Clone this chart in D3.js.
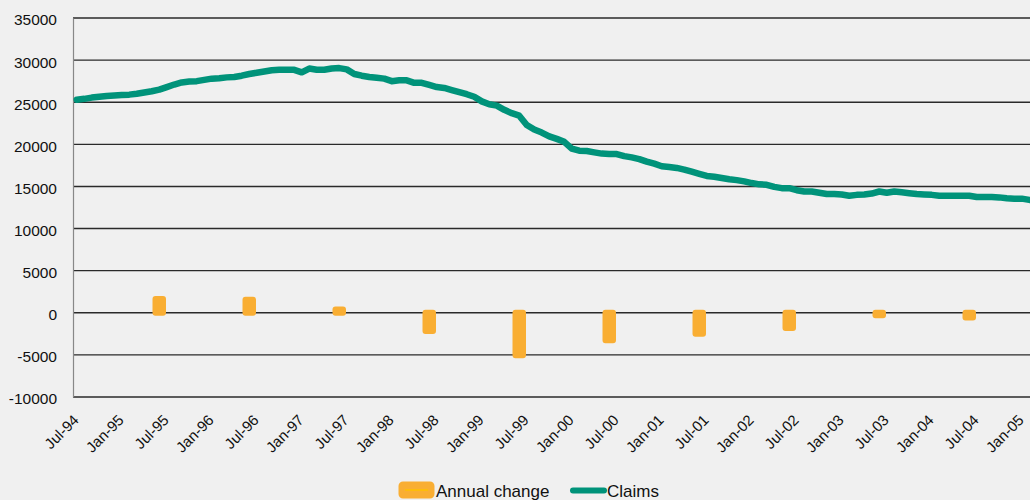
<!DOCTYPE html>
<html>
<head>
<meta charset="utf-8">
<script src="https://cdn.jsdelivr.net/npm/d3@7"></script>
<style>
  body { margin: 0; background: #f0f0f0; }
  svg { display: block; font-family: Arial, "Liberation Sans", sans-serif; }
</style>
</head>
<body>
<div id="chart"></div>
<script>
// Monthly claims, Jul-94 to Feb-05
const claims = [
  25300, 25400, 25550, 25650, 25750, 25800, 25850, 25900, 26000, 26150, 26300, 26500,
  26800, 27100, 27350, 27450, 27500, 27650, 27800, 27850, 27950, 28000, 28150, 28350,
  28500, 28650, 28800, 28850, 28850, 28850, 28550, 29000, 28850, 28850, 29000, 29050,
  28900, 28350, 28150, 28000, 27900, 27800, 27500, 27600, 27600, 27300, 27300, 27050,
  26800, 26700, 26450, 26200, 25950, 25650, 25100, 24750, 24600, 24100, 23700, 23400,
  22300, 21750, 21400, 20950, 20650, 20300, 19500, 19250, 19200, 19050, 18900, 18850,
  18850, 18600, 18450, 18250, 17950, 17700, 17400, 17300, 17200, 17000, 16750, 16500,
  16250, 16150, 16000, 15850, 15750, 15600, 15400, 15250, 15200, 14950, 14800, 14800,
  14550, 14400, 14400, 14250, 14100, 14100, 14050, 13900, 14000, 14050, 14150, 14400,
  14250, 14400, 14300, 14200, 14100, 14050, 14000, 13900, 13900, 13900, 13900, 13900,
  13750, 13750, 13750, 13700, 13600, 13550, 13550, 13400
];

// Annual change, taken each June
const changeMonths = ["Jun-95", "Jun-96", "Jun-97", "Jun-98", "Jun-99", "Jun-00", "Jun-01", "Jun-02", "Jun-03", "Jun-04"];
const changeValues = [1650, 1550, 400, -2150, -5050, -3250, -2500, -1800, -300, -550];

const tickLabels = ["Jul-94", "Jan-95", "Jul-95", "Jan-96", "Jul-96", "Jan-97", "Jul-97", "Jan-98", "Jul-98", "Jan-99",
  "Jul-99", "Jan-00", "Jul-00", "Jan-01", "Jul-01", "Jan-02", "Jul-02", "Jan-03", "Jul-03", "Jan-04", "Jul-04", "Jan-05"];
const yTicks = [-10000, -5000, 0, 5000, 10000, 15000, 20000, 25000, 30000, 35000];

const fmt = d3.timeFormat("%b-%y");
const months = d3.timeMonth.range(new Date(1994, 6, 1), new Date(2005, 2, 1)).map(fmt);

const width = 1030, height = 500;
const margin = { left: 73, top: 18, bottom: 397 };

const svg = d3.select("#chart")
    .append("svg")
    .attr("width", width)
    .attr("height", height);

svg.append("rect")
    .attr("width", width)
    .attr("height", height)
    .attr("fill", "#f0f0f0");

// scales
const x = d3.scaleBand()
    .domain(months)
    .range([margin.left, margin.left + months.length * 7.5]);

const y = d3.scaleLinear()
    .domain([-10000, 35000])
    .range([margin.bottom, margin.top]);

const cx = m => x(m) + x.bandwidth() / 2;

// gridlines
svg.append("g")
    .selectAll("line")
    .data(yTicks)
    .join("line")
    .attr("x1", margin.left)
    .attr("x2", width)
    .attr("y1", d => y(d))
    .attr("y2", d => y(d))
    .attr("stroke", "#2a2a2a")
    .attr("stroke-width", 1.4);

// y axis
const yAxis = svg.append("g")
    .attr("transform", `translate(${margin.left},0)`)
    .call(d3.axisLeft(y).tickValues(yTicks).tickSize(0).tickPadding(16).tickFormat(d => String(d)));
yAxis.select(".domain").attr("stroke", "#888").attr("stroke-width", 1.2);
yAxis.selectAll("text")
    .attr("font-size", 15.5)
    .attr("fill", "#111")
    .attr("dy", "0.45em");

// x tick labels
svg.append("g")
    .selectAll("text")
    .data(tickLabels)
    .join("text")
    .attr("transform", d => `translate(${cx(d) + 3},${421}) rotate(-45)`)
    .attr("text-anchor", "end")
    .attr("font-size", 15)
    .attr("fill", "#111")
    .text(d => d);

// annual change bars
svg.append("g")
    .selectAll("rect")
    .data(changeMonths.map((m, i) => ({ m, v: changeValues[i] })))
    .join("rect")
    .attr("x", d => x(d.m))
    .attr("width", x.bandwidth())
    .attr("y", d => y(Math.max(0, d.v)))
    .attr("height", d => Math.abs(y(d.v) - y(0)))
    .attr("fill", "#f9ae33")
    .attr("stroke", "#f9ae33")
    .attr("stroke-width", 6)
    .attr("stroke-linejoin", "round");

// claims line
const line = d3.line()
    .x((d, i) => cx(months[i]))
    .y(d => y(d));

svg.append("path")
    .datum(claims)
    .attr("fill", "none")
    .attr("stroke", "#00937a")
    .attr("stroke-width", 6.5)
    .attr("stroke-linejoin", "round")
    .attr("stroke-linecap", "round")
    .attr("d", line);

// legend
const legend = svg.append("g");
legend.append("rect")
    .attr("x", 401).attr("y", 484)
    .attr("width", 31).attr("height", 12)
    .attr("rx", 2)
    .attr("fill", "#f9ae33")
    .attr("stroke", "#f9ae33")
    .attr("stroke-width", 5)
    .attr("stroke-linejoin", "round");
legend.append("line")
    .attr("x1", 405).attr("x2", 428)
    .attr("y1", 490).attr("y2", 490)
    .attr("stroke", "#ffc000")
    .attr("stroke-width", 1.5);
legend.append("text")
    .attr("x", 436).attr("y", 497)
    .attr("font-size", 17)
    .attr("fill", "#111")
    .text("Annual change");

legend.append("line")
    .attr("x1", 573).attr("x2", 604)
    .attr("y1", 490.5).attr("y2", 490.5)
    .attr("stroke", "#00937a")
    .attr("stroke-width", 6)
    .attr("stroke-linecap", "round");
legend.append("text")
    .attr("x", 607).attr("y", 497)
    .attr("font-size", 17)
    .attr("fill", "#111")
    .text("Claims");
</script>
</body>
</html>
